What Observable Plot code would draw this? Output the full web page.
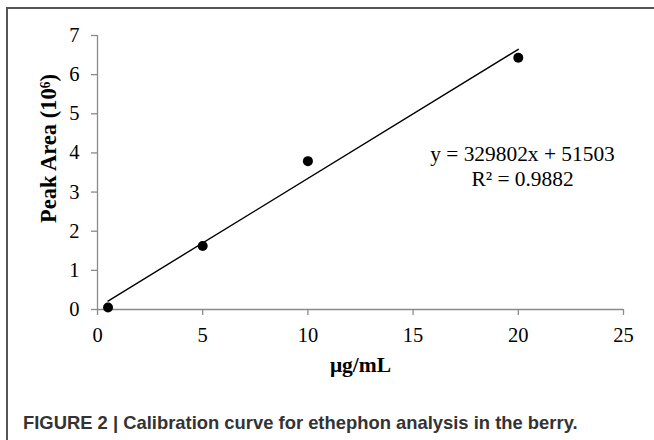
<!DOCTYPE html>
<html>
<head>
<meta charset="utf-8">
<script src="https://cdn.jsdelivr.net/npm/d3@7"></script>
<script src="https://cdn.jsdelivr.net/npm/@observablehq/plot@0.6"></script>
<style>
  html, body { margin: 0; padding: 0; background: #fff; overflow: hidden; }
  #wrap { position: relative; width: 654px; height: 440px; overflow: hidden; }
  #frame { position: absolute; left: 6px; top: 7px; width: 720px; height: 520px; border: 2px solid #555; box-sizing: border-box; }
  #chart { position: absolute; left: 0; top: 0; }
  #caption { position: absolute; left: 23px; top: 414px; font-family: "Liberation Sans", Arial, sans-serif; font-weight: bold; font-size: 18.4px; line-height: 1; color: #333; white-space: nowrap; }
</style>
</head>
<body>
<div id="wrap">
  <div id="frame"></div>
  <div id="chart"></div>
  <div id="caption">FIGURE 2 | Calibration curve for ethephon analysis in the berry.</div>
</div>
<script>
// Data
const concentration = [0.5, 5, 10, 20];          // µg/mL
const peakArea = [0.05, 1.62, 3.79, 6.43];       // ×10^6
const slope = 329802;
const intercept = 51503;
const rSquared = 0.9882;
const fitRange = [0.5, 20];
const xTicks = [0, 5, 10, 15, 20, 25];
const yTicks = [0, 1, 2, 3, 4, 5, 6, 7];
const xLabel = "μg/mL";
const yLabel = "Peak Area (10⁶)";

const points = concentration.map((c, i) => ({c, a: peakArea[i]}));
const fit = fitRange.map(c => ({c, a: (slope * c + intercept) / 1e6}));
const eqText = `y = ${slope}x + ${intercept}\nR² = ${rSquared}`;

const axisGray = "#8a8a8a";
const chart = Plot.plot({
  width: 654,
  height: 390,
  marginLeft: 97,
  marginRight: 31,
  marginTop: 35,
  marginBottom: 81,
  style: {fontFamily: "'Liberation Serif', 'Times New Roman', serif", fontSize: "20.5px", background: "transparent", overflow: "visible"},
  x: {domain: [0, 25]},
  y: {domain: [0, 7]},
  marks: [
    Plot.axisX({ticks: xTicks, tickFormat: d3.format("d"), tickSize: 6, tickPadding: 12.4, stroke: axisGray, strokeWidth: 1.3, fill: "black", fontSize: 20.5, label: null}),
    Plot.axisY({ticks: yTicks, tickFormat: d3.format("d"), tickSize: 6, tickPadding: 12, stroke: axisGray, strokeWidth: 1.3, fill: "black", fontSize: 20.5, label: null}),
    Plot.ruleY([0], {stroke: axisGray, strokeWidth: 1.3}),
    Plot.ruleX([0], {stroke: axisGray, strokeWidth: 1.3}),
    Plot.line(fit, {x: "c", y: "a", stroke: "black", strokeWidth: 1.4}),
    Plot.dot(points, {x: "c", y: "a", r: 5, fill: "black", stroke: "none"}),
    Plot.text([eqText], {frameAnchor: "top-right", dx: -101, dy: 108, textAnchor: "middle", lineAnchor: "top", lineHeight: 1.17, fontSize: 21.4, fill: "black"}),
    Plot.text([xLabel], {frameAnchor: "bottom", dy: 62, lineAnchor: "bottom", fontSize: 21.5, fontWeight: "bold", fill: "black"}),
    Plot.text([yLabel], {frameAnchor: "left", dx: -49, dy: -24, rotate: -90, textAnchor: "middle", lineAnchor: "middle", fontSize: 22.5, fontWeight: "bold", fill: "black"})
  ]
});
document.getElementById("chart").appendChild(chart);
</script>
</body>
</html>
